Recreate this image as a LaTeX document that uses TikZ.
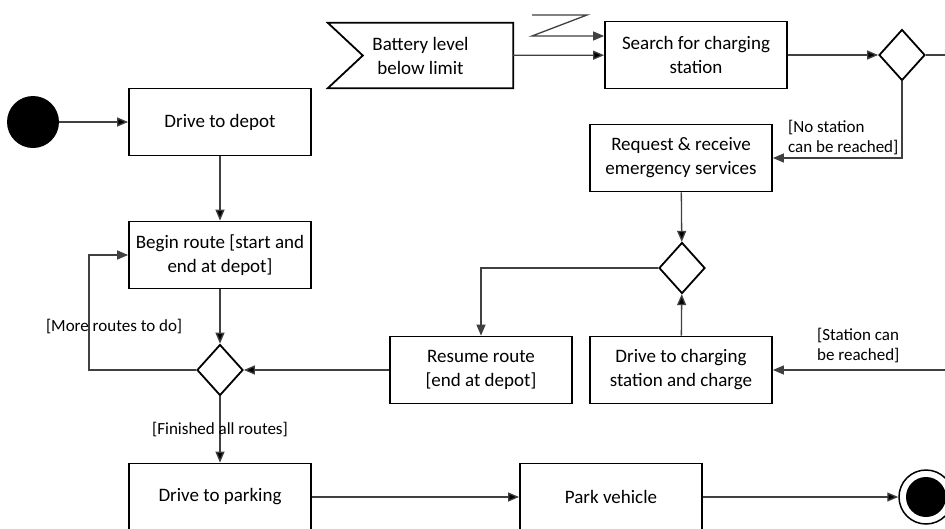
\documentclass[tikz,border=0pt]{standalone}
\usepackage{fontspec}
\setmainfont{Carlito}
\usetikzlibrary{arrows.meta,shapes.geometric}

\begin{document}
\begin{tikzpicture}[x=1pt,y=-1pt,
    action node/.style={rectangle,draw,line width=1.8pt,minimum width=182pt,minimum height=67pt,align=center,font=\fontsize{19}{24}\selectfont},
    signal node/.style={rectangle,minimum width=185pt,minimum height=65pt,align=center,font=\fontsize{19}{24}\selectfont},
    decision node/.style={diamond,draw,line width=1.8pt,minimum width=46pt,minimum height=51pt,inner sep=0pt},
    guard/.style={font=\fontsize{17}{20}\selectfont,align=left,inner sep=2pt},
    flow/.style={draw=black!75,line width=1.3pt,-{Triangle[length=11pt,width=9pt]}}]
        \useasboundingbox[fill=white] (0,0) rectangle (945,528);
        \clip (0,0) rectangle (945,528);

        \node[circle,fill=black,minimum size=52pt,inner sep=0pt] at (33, 122) (start) {};
        \node[action node] at (220, 122) (depot) {Drive to depot};
        \node[action node] at (220, 255) (begin) {Begin route [start and\\end at depot]};
        \node[decision node] at (220, 370) (dec1) {};
        \node[action node] at (481, 370) (resume) {Resume route\\{[end at depot]}};
        \node[action node] at (681, 370) (charge) {Drive to charging\\station and charge};
        \node[decision node] at (682, 268) (dec2) {};
        \node[action node] at (681, 158) (request) {Request \& receive\\emergency services};
        \node[signal node] at (420.5, 55.5) (battery) {Battery level\\below limit};
        \node[action node] at (696, 55) (search) {Search for charging\\station};
        \node[decision node] at (902, 55) (dec3) {};
        \node[action node] at (220, 497) (parking) {Drive to parking};
        \node[action node] at (611, 497) (park) {Park vehicle};
        \node[circle,draw,line width=1.5pt,minimum size=54pt,inner sep=0pt,
              path picture={\fill (path picture bounding box.center) circle (20pt);}] at (926, 497) (stop) {};
        \coordinate (zstart) at (532, 15);

        % accept signal outline
        \draw[line width=1.8pt, line join=miter] (battery.north west) -- (battery.north east)
            -- (battery.south east) -- (battery.south west) -- ([xshift=35pt]battery.west) -- cycle;

        \path[flow]
            (start) edge (depot)
            (depot) edge (begin)
            (begin) edge (dec1)
            (resume) edge (dec1)
            (charge) edge (dec2)
            (request) edge (dec2)
            (battery) edge (search)
            (search) edge (dec3)
            (parking) edge (park)
            (park) edge (stop)
            (dec1) edge node[guard] {[Finished all routes]} (parking)
            ;

        \draw[flow] (zstart) -- (587, 15) -- (532, 36) -- (search.west |- 0, 36);
        \draw[flow] (dec1.west) -- ++(-107, 0) |- (begin.west)
            node[guard, pos=0.19, xshift=25pt] {[More routes to do]};
        \draw[flow] (dec2.west) -| (resume.north);
        \draw[flow] (dec3.south) |- (request.east)
            node[guard, pos=0.5, anchor=south east, xshift=-1pt, yshift=1pt] {[No station\\can be reached]};
        \draw[flow] (dec3.east) -- ++(70, 0) |- (charge.east)
            node[guard, pos=0.9, anchor=south west, xshift=-3pt, yshift=5pt] {[Station can\\be reached]};
\end{tikzpicture}
\end{document}
